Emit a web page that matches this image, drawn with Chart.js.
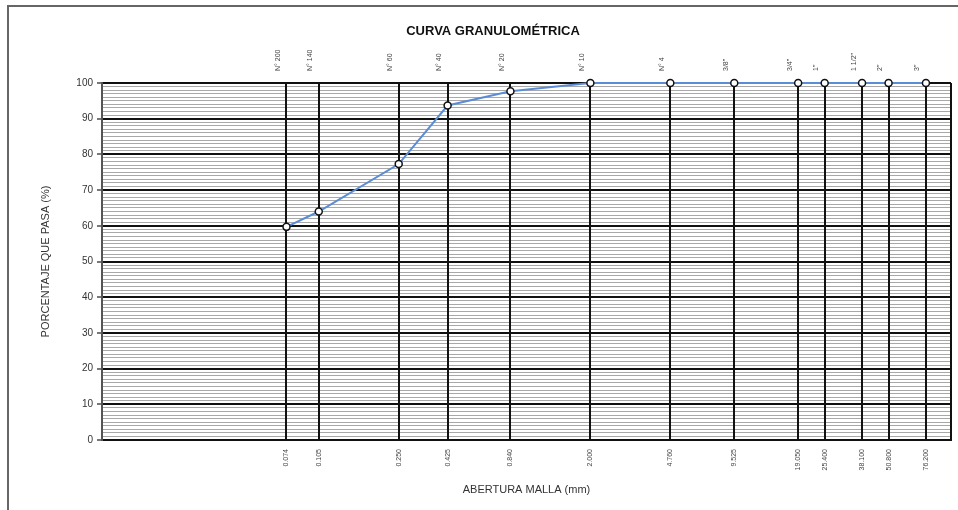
<!DOCTYPE html>
<html>
<head>
<meta charset="utf-8">
<script src="https://cdn.jsdelivr.net/npm/chart.js@4.4.0/dist/chart.umd.min.js"></script>
<style>
  body { margin: 0; background: #fff; }
  #frame { position: absolute; left: 7px; top: 5px; width: 980px; height: 530px; border-left: 2px solid #666; border-top: 2px solid #666; }
  #graf { position: absolute; left: 0; top: 0; }
</style>
</head>
<body>
<div id="frame"></div>
<canvas id="graf" width="958" height="510"></canvas>
<script>
// aberturas de malla (mm) y tamices
const aberturas = [0.074, 0.105, 0.250, 0.425, 0.840, 2.000, 4.760, 9.525, 19.050, 25.400, 38.100, 50.800, 76.200];
const etiquetasMm = ['0.074', '0.105', '0.250', '0.425', '0.840', '2.000', '4.760', '9.525', '19.050', '25.400', '38.100', '50.800', '76.200'];
const tamices = ['N° 200', 'N° 140', 'N° 60', 'N° 40', 'N° 20', 'N° 10', 'N° 4', '3/8"', '3/4"', '1"', '1 1/2"', '2"', '3"'];
const pasa = [59.7, 64.0, 77.3, 93.7, 97.7, 100, 100, 100, 100, 100, 100, 100, 100];

const puntos = aberturas.map((a, i) => ({ x: a, y: pasa[i] }));

function sinPadding(s) {
    s.paddingLeft = 0;
    s.paddingRight = 0;
    s.paddingTop = 0;
    s.paddingBottom = 0;
}

document.addEventListener("DOMContentLoaded", function() {
    const ctx = document.getElementById('graf').getContext('2d');
    new Chart(ctx, {
        type: 'scatter',
        data: {
            datasets: [{
                data: puntos,
                showLine: true,
                borderColor: '#5b8dd6',
                borderWidth: 2,
                pointRadius: 3.5,
                pointBackgroundColor: '#fff',
                pointBorderColor: '#111',
                pointBorderWidth: 1.5,
                clip: false
            }]
        },
        options: {
            responsive: false,
            animation: false,
            layout: { padding: { left: 35, right: 7, top: 0, bottom: 0 } },
            plugins: {
                legend: { display: false },
                tooltip: { enabled: false },
                title: {
                    display: true,
                    text: 'CURVA GRANULOMÉTRICA',
                    color: '#111',
                    font: { family: 'Liberation Sans', size: 13, weight: 'bold', lineHeight: 1 },
                    padding: { top: 25, bottom: 5 }
                }
            },
            scales: {
                x: {
                    type: 'logarithmic',
                    position: 'bottom',
                    min: 0.01,
                    max: 100,
                    afterBuildTicks: s => { s.ticks = aberturas.concat([100]).map(v => ({ value: v })); },
                    afterFit: s => { s.height = 70; sinPadding(s); },
                    grid: { color: '#111', lineWidth: 2, drawTicks: false, z: -1 },
                    border: { color: '#111', width: 2 },
                    ticks: {
                        autoSkip: false,
                        maxRotation: 90,
                        minRotation: 90,
                        padding: 9,
                        color: '#444',
                        font: { family: 'Liberation Sans', size: 7 },
                        callback: (v, i) => etiquetasMm[i] || ''
                    },
                    title: {
                        display: true,
                        text: 'ABERTURA MALLA (mm)',
                        color: '#333',
                        font: { family: 'Liberation Sans', size: 11 },
                        padding: { top: 0, bottom: 13 }
                    }
                },
                x2: {
                    type: 'logarithmic',
                    position: 'top',
                    min: 0.01,
                    max: 100,
                    afterBuildTicks: s => { s.ticks = aberturas.map(v => ({ value: v })); },
                    afterFit: s => { s.height = 40; sinPadding(s); },
                    grid: { display: false },
                    border: { display: false },
                    ticks: {
                        autoSkip: false,
                        maxRotation: 90,
                        minRotation: 90,
                        padding: 4,
                        color: '#444',
                        font: { family: 'Liberation Sans', size: 7 },
                        callback: (v, i) => tamices[i]
                    }
                },
                y: {
                    min: 0,
                    max: 100,
                    afterFit: s => { s.width = 67; sinPadding(s); },
                    grid: {
                        z: -2,
                        color: c => c.tick.value % 10 === 0 ? '#111' : '#a8a8a8',
                        lineWidth: c => c.tick.value % 10 === 0 ? 2 : 1,
                        tickColor: c => c.tick.value % 10 === 0 ? '#777' : 'rgba(0,0,0,0)',
                        tickLength: 5
                    },
                    border: { color: '#555', width: 2 },
                    ticks: {
                        stepSize: 1,
                        maxTicksLimit: 200,
                        autoSkip: false,
                        padding: 4,
                        color: '#333',
                        font: { family: 'Liberation Sans', size: 10 },
                        callback: v => v % 10 === 0 ? v : ''
                    },
                    title: {
                        display: true,
                        text: 'PORCENTAJE QUE PASA (%)',
                        color: '#333',
                        font: { family: 'Liberation Sans', size: 11 },
                        padding: { top: 4, bottom: 0 }
                    }
                }
            }
        }
    });
});
</script>
</body>
</html>
